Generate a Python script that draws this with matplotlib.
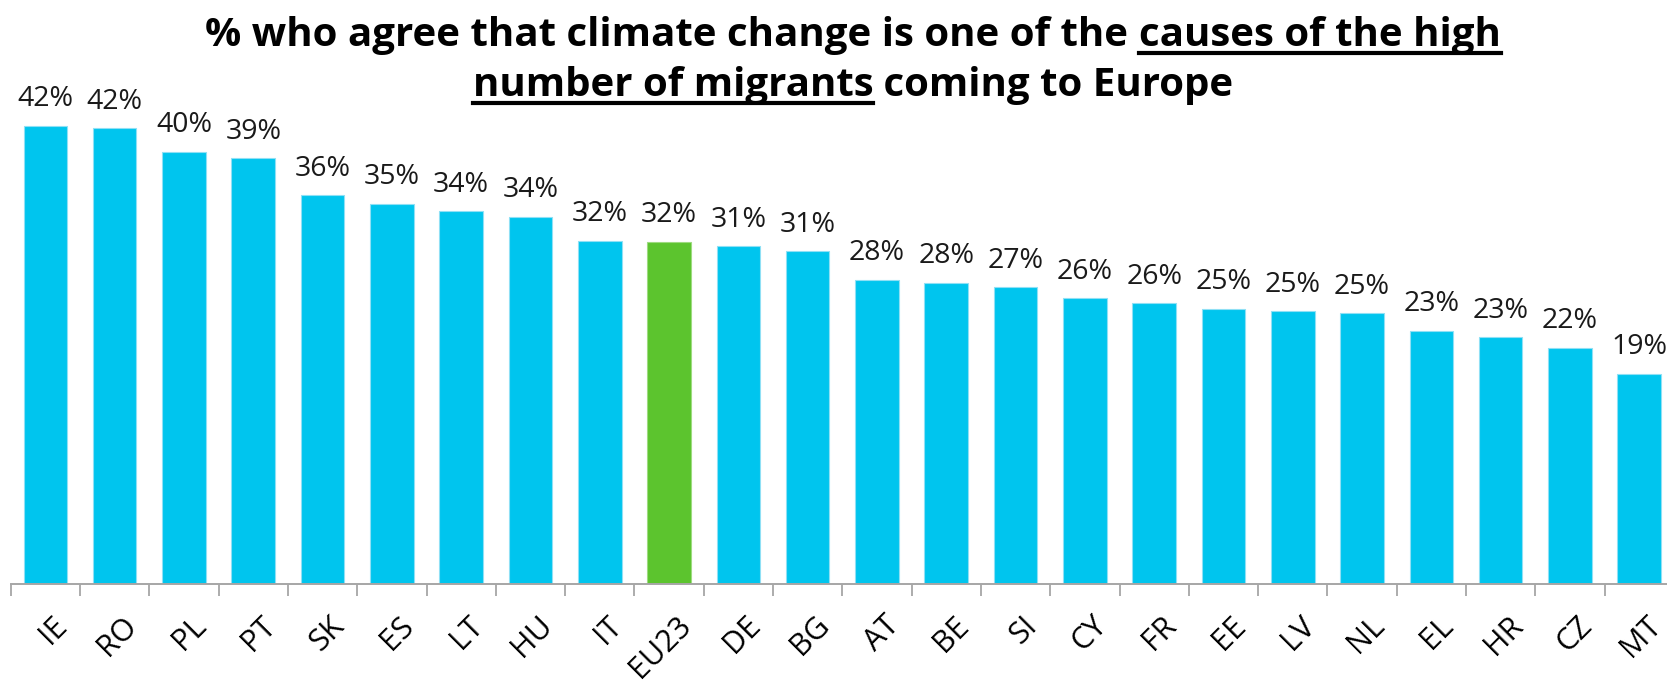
import numpy as np
import matplotlib
matplotlib.use("Agg")
import matplotlib.pyplot as plt
from matplotlib.lines import Line2D
import matplotlib.transforms as mtransforms

# data (share who agree, %)
countries = ["IE", "RO", "PL", "PT", "SK", "ES", "LT", "HU", "IT", "EU23", "DE", "BG",
             "AT", "BE", "SI", "CY", "FR", "EE", "LV", "NL", "EL", "HR", "CZ", "MT"]
values = [42.3, 42.1, 39.9, 39.3, 35.9, 35.1, 34.4, 33.9, 31.7, 31.6, 31.2, 30.7,
          28.1, 27.8, 27.4, 26.4, 25.9, 25.4, 25.2, 25.0, 23.4, 22.8, 21.8, 19.4]
highlight = "EU23"

blue = "#00C5EE"
green = "#5CC42E"
axis_grey = "#A6A6A6"

plt.rcParams['font.family'] = ["Open Sans", "DejaVu Sans"]

W, H = 1667, 682
fig = plt.figure(figsize=(W / 100, H / 100), dpi=100)
fig.patch.set_facecolor("white")

# axes placed in pixels: baseline at y=584, category width ~69.3 px
ax = fig.add_axes([10.7 / W, 98 / H, 1663.2 / W, 487.4 / H])

x = np.arange(len(countries))
colors = [green if c == highlight else blue for c in countries]
bars = ax.bar(x, values, width=0.63, color=colors, edgecolor=[
    "#8FE0F5" if c != highlight else "#9EDB80" for c in countries], linewidth=0.8)

for b, v in zip(bars, values):
    ax.annotate(f"{round(v)}%", (b.get_x() + b.get_width() / 2, b.get_height()),
                xytext=(0, 14), textcoords="offset points",
                ha="center", va="baseline", fontsize=20.5, color="#1a1a1a")

ax.set_xlim(-0.5, len(countries) - 0.5)
ax.set_ylim(0, 45)
ax.set_yticks([])
for s in ["top", "right", "left"]:
    ax.spines[s].set_visible(False)
ax.spines["bottom"].set_color(axis_grey)
ax.spines["bottom"].set_linewidth(1.4)

# boundary ticks (major) and centred labels (minor)
ax.set_xticks(np.arange(-0.5, len(countries), 1.0))
ax.set_xticklabels([])
ax.tick_params(axis="x", which="major", length=8.6, width=1.3, color=axis_grey)
ax.set_xticks(x, minor=True)
ax.set_xticklabels(countries, minor=True, rotation=45, ha="right",
                   rotation_mode="anchor", fontsize=22)
ax.tick_params(axis="x", which="minor", length=0, pad=19)
offset = mtransforms.ScaledTranslation(7 / 100, 0, fig.dpi_scale_trans)
for lab in ax.get_xticklabels(minor=True):
    lab.set_transform(lab.get_transform() + offset)

# title with partly underlined words
title_size = 29
title_lines = [
    ("% who agree that climate change is one of the ", "causes of the high", ""),
    ("", "number of migrants", " coming to Europe"),
]
baselines = [H - 46, H - 96]
cx = 853

fig.canvas.draw()
renderer = fig.canvas.get_renderer()


def text_width(s):
    if not s:
        return 0.0
    t = fig.text(0, 0, s.replace(" ", "\u00a0"), fontsize=title_size, fontweight="bold")
    w = t.get_window_extent(renderer).width
    t.remove()
    return w


for (pre, under, post), yb in zip(title_lines, baselines):
    wp, wu, wq = text_width(pre), text_width(under), text_width(post)
    x0 = cx - (wp + wu + wq) / 2
    xpos = x0
    for part, w in [(pre, wp), (under, wu), (post, wq)]:
        if part:
            fig.text(xpos / W, yb / H, part.replace(" ", "\u00a0"), fontsize=title_size,
                     fontweight="bold", ha="left", va="baseline", color="black")
        xpos += w
    ux0 = x0 + wp
    fig.add_artist(Line2D([ux0 / W, (ux0 + wu) / W], [(yb - 7) / H, (yb - 7) / H],
                          color="black", linewidth=3.0, transform=fig.transFigure))

fig.savefig("out.png", dpi=100, facecolor="white")
